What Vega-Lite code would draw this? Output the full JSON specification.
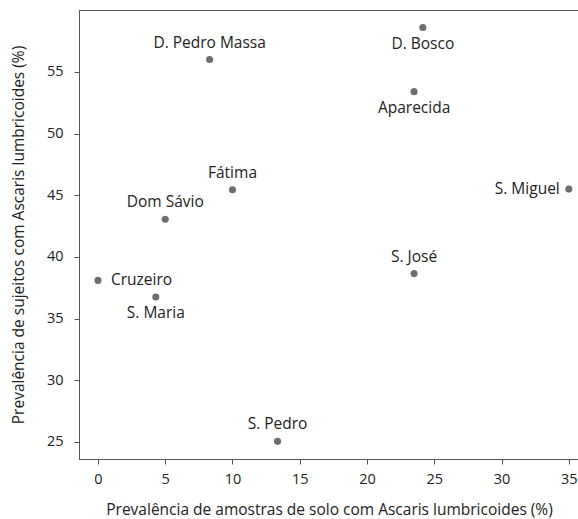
{
  "$schema": "https://vega.github.io/schema/vega-lite/v6.json",
  "autosize": "none",
  "padding": {"left": 79, "top": 10, "right": 0, "bottom": 60},
  "width": 500,
  "height": 449,
  "config": {
    "font": "Open Sans",
    "view": {"stroke": "#555", "strokeWidth": 1},
    "axis": {
      "domainColor": "#555",
      "tickColor": "#555",
      "labelColor": "#222",
      "titleColor": "#222",
      "labelFontSize": 14.5,
      "titleFontSize": 15.5,
      "titleFontWeight": "normal",
      "labelFont": "Open Sans",
      "titleFont": "Open Sans",
      "grid": false,
      "tickSize": 5
    }
  },
  "data": {
    "values": [
      {"bairro": "D. Pedro Massa", "solo": 8.3, "sujeitos": 56.0},
      {"bairro": "D. Bosco", "solo": 24.15, "sujeitos": 58.6},
      {"bairro": "Aparecida", "solo": 23.5, "sujeitos": 53.4},
      {"bairro": "S. Miguel", "solo": 35.0, "sujeitos": 45.5},
      {"bairro": "Fátima", "solo": 10.0, "sujeitos": 45.45},
      {"bairro": "Dom Sávio", "solo": 5.0, "sujeitos": 43.05},
      {"bairro": "S. José", "solo": 23.5, "sujeitos": 38.65},
      {"bairro": "Cruzeiro", "solo": 0.0, "sujeitos": 38.1},
      {"bairro": "S. Maria", "solo": 4.3, "sujeitos": 36.75},
      {"bairro": "S. Pedro", "solo": 13.35, "sujeitos": 25.05}
    ]
  },
  "encoding": {
    "x": {
      "field": "solo", "type": "quantitative",
      "scale": {"domain": [-1.41, 35.76], "nice": false, "zero": false},
      "axis": {"values": [0, 5, 10, 15, 20, 25, 30, 35], "labelPadding": 8, "titlePadding": 17,
        "title": "Prevalência de amostras de solo com Ascaris lumbricoides (%)"}
    },
    "y": {
      "field": "sujeitos", "type": "quantitative",
      "scale": {"domain": [23.62, 60.02], "nice": false, "zero": false},
      "axis": {"values": [25, 30, 35, 40, 45, 50, 55], "labelPadding": 11, "titlePadding": 20,
        "title": "Prevalência de sujeitos com Ascaris lumbricoides (%)"}
    }
  },
  "layer": [
    {"mark": {"type": "point", "filled": true, "size": 50, "color": "#6e6e6e", "opacity": 1}},
    {
      "transform": [{"filter": {"field": "bairro", "oneOf": ["D. Pedro Massa", "Fátima", "Dom Sávio", "S. José", "S. Pedro"]}}],
      "mark": {"type": "text", "baseline": "alphabetic", "align": "center", "dy": -12, "fontSize": 15.5, "color": "#222"},
      "encoding": {"text": {"field": "bairro"}}
    },
    {
      "transform": [{"filter": {"field": "bairro", "oneOf": ["D. Bosco", "Aparecida", "S. Maria"]}}],
      "mark": {"type": "text", "baseline": "top", "align": "center", "dy": 9, "fontSize": 15.5, "color": "#222"},
      "encoding": {"text": {"field": "bairro"}}
    },
    {
      "transform": [{"filter": {"field": "bairro", "equal": "S. Miguel"}}],
      "mark": {"type": "text", "baseline": "middle", "align": "right", "dx": -9, "fontSize": 15.5, "color": "#222"},
      "encoding": {"text": {"field": "bairro"}}
    },
    {
      "transform": [{"filter": {"field": "bairro", "equal": "Cruzeiro"}}],
      "mark": {"type": "text", "baseline": "middle", "align": "left", "dx": 13, "fontSize": 15.5, "color": "#222"},
      "encoding": {"text": {"field": "bairro"}}
    }
  ]
}
